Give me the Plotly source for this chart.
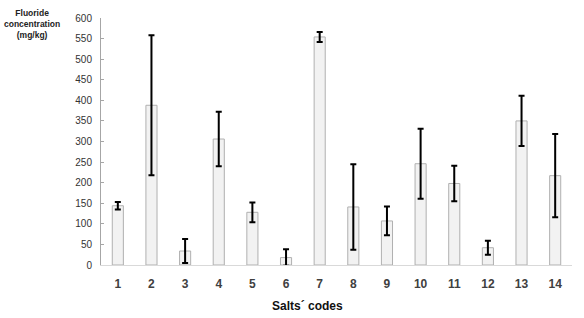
import plotly.graph_objects as go

codes = [str(i) for i in range(1, 15)]
fluoride = [144, 388, 34, 306, 128, 18, 554, 141, 107, 246, 198, 42, 350, 217]
err = [9, 170, 29, 66, 24, 20, 12, 104, 35, 85, 43, 17, 61, 101]
y_ticks = list(range(0, 601, 50))

fig = go.Figure()
fig.add_trace(go.Bar(
    x=codes, y=fluoride, width=0.33,
    marker=dict(color="#f2f2f2", line=dict(color="#b0b0b0", width=1)),
    error_y=dict(type="data", array=err, visible=True, color="black", thickness=2, width=3),
))

fig.update_layout(
    width=584, height=318,
    margin=dict(l=101, r=12, t=15, b=53),
    paper_bgcolor="white", plot_bgcolor="white",
    showlegend=False,
    font=dict(family="Liberation Sans, Arial, sans-serif", color="#333333"),
    bargap=0.67,
)
fig.update_xaxes(
    type="category", showline=True, linecolor="#d9d9d9", linewidth=1,
    ticks="", showgrid=False, tickfont=dict(size=12, color="#404040", weight="bold"),
    ticklabelstandoff=8,
)
fig.update_yaxes(
    range=[0, 600], tickvals=y_ticks, showline=True, linecolor="#a6a6a6", linewidth=1,
    ticks="inside", ticklen=3, tickcolor="#a6a6a6", showgrid=False, zeroline=False,
    tickfont=dict(size=10, color="#333333"), ticklabelstandoff=6,
)
fig.add_annotation(
    text="<b>Fluoride<br>concentration<br>(mg/kg)</b>", xref="paper", yref="paper",
    x=-(101 - 32) / 471, y=1 + 12 / 250, xanchor="center", yanchor="top",
    showarrow=False, font=dict(size=8.5, color="#222222"), align="center",
)
fig.add_annotation(
    text="<b>Salts´ codes</b>", xref="paper", yref="paper",
    x=(307 - 101) / 471, y=-(306 - 265) / 250, xanchor="center", yanchor="middle",
    showarrow=False, font=dict(size=12, color="#111111"),
)

fig.write_html("out.html")
